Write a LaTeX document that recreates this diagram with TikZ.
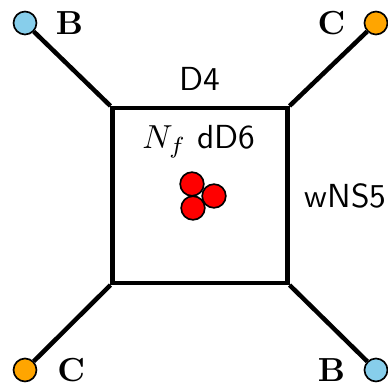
\documentclass[tikz,border=0pt]{standalone}
\usepackage{tikz}
\usetikzlibrary{positioning}
\definecolor{bblue}{HTML}{87CEEB}
\definecolor{corange}{HTML}{FFA500}
\definecolor{dsixred}{HTML}{FF0000}
\tikzset{
  endpt/.style={circle, draw=black, line width=0.5pt, inner sep=0pt, minimum size=6.9pt},
  dsix/.style={circle, draw=black, fill=dsixred, line width=0.5pt, inner sep=0pt, minimum size=7.1pt},
  leg/.style={draw=black, line width=1.35pt},
  lbl/.style={font=\bfseries}
}

\begin{document}
\begin{tikzpicture}[x=0.3pt, y=-0.3pt]
\useasboundingbox (0,0) rectangle (388,386);
\node[draw, line width=1.35pt, minimum size=52.4pt, inner sep=0pt] (box) at (200,195.5) {};
% end points of the legs
\node[endpt, fill=bblue] (tl) at (25,23) {};
\node[endpt, fill=corange] (tr) at (376,23) {};
\node[endpt, fill=corange] (bl) at (25,370) {};
\node[endpt, fill=bblue] (br) at (376,370) {};
\node[lbl, right=2pt of tl] (tlb) {B};
\node[lbl, left=2pt of tr] (trc) {C};
\node[lbl, right=2.5pt of bl] (blc) {C};
\node[lbl, left=2pt of br] (brb) {B};
\draw[leg] (box.north west) -- (tl); \draw[leg] (box.north east) -- (tr);
\draw[leg] (box.south west) -- (bl); \draw[leg] (box.south east) -- (br);
% labels of the box
\node[font=\sffamily, above=1pt of box] (dfour) {D4};
\node[font=\sffamily, right=1pt of box] (ns) {wNS5};
\node (nf) at (199,142) {$N_f$ \textsf{dD6}};
% stack of D6s
\node[dsix] (da) at (192,184) {};
\node[dsix] (db) at (214,196) {};
\node[dsix] (dc) at (193,208) {};
\end{tikzpicture}
\end{document}
